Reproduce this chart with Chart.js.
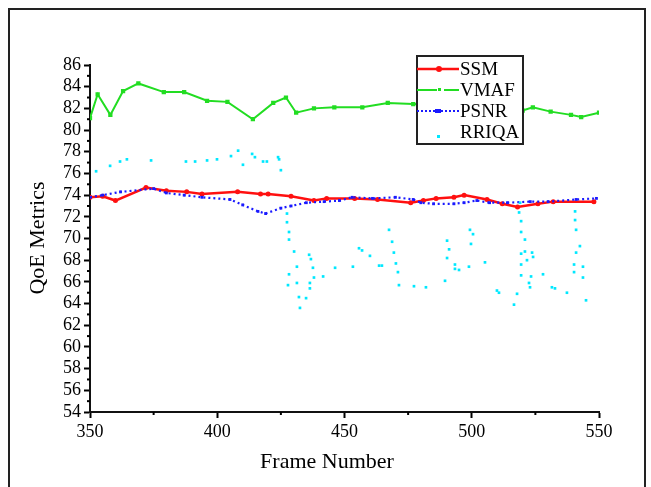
<!DOCTYPE html>
<html>
<head>
<meta charset="utf-8">
<script src="https://cdn.jsdelivr.net/npm/chart.js@4/dist/chart.umd.min.js"></script>
<style>
  html, body { margin: 0; padding: 0; background: #fff; overflow: hidden; }
  #wrap { position: relative; width: 651px; height: 487px; }
  #frame { position: absolute; left: 8px; top: 8px; width: 638px; height: 490px; border: 2px solid #222; box-sizing: border-box; }
  canvas { position: absolute; left: 0; top: 0; }
</style>
</head>
<body>
<div id="wrap">
  <div id="frame"></div>
  <canvas id="c" width="651" height="487"></canvas>
</div>
<script>
// ---- data ----
const xTickLabels = [350, 400, 450, 500, 550];
const yTickLabels = [54, 56, 58, 60, 62, 64, 66, 68, 70, 72, 74, 76, 78, 80, 82, 84, 86];

const vmafFrames = [350, 353, 358, 363, 369, 379, 387, 396, 404, 414, 422, 427, 431, 438, 446, 457, 467, 477, 497, 520, 524, 531, 539, 543, 550];
const vmafValues = [81.1, 83.3, 81.4, 83.6, 84.3, 83.5, 83.5, 82.7, 82.6, 81.0, 82.5, 83.0, 81.6, 82.0, 82.1, 82.1, 82.5, 82.4, 82.2, 81.8, 82.1, 81.7, 81.4, 81.2, 81.6];

const ssmFrames = [350, 355, 360, 372, 380, 388, 394, 408, 417, 420, 429, 438, 443, 454, 463, 476, 481, 486, 493, 497, 506, 512, 518, 526, 532, 548];
const ssmValues = [73.8, 73.9, 73.5, 74.7, 74.4, 74.3, 74.1, 74.3, 74.1, 74.1, 73.9, 73.5, 73.7, 73.7, 73.6, 73.3, 73.5, 73.7, 73.8, 74.0, 73.6, 73.2, 72.9, 73.2, 73.4, 73.4];

const psnrFrames = [350, 355, 362, 375, 380, 387, 394, 405, 410, 416, 419, 425, 429, 435, 442, 448, 453, 461, 470, 477, 480, 485, 493, 497, 502, 507, 514, 523, 530, 541, 549];
const psnrValues = [73.8, 74.0, 74.3, 74.6, 74.2, 74.0, 73.8, 73.6, 73.1, 72.5, 72.3, 72.8, 73.0, 73.3, 73.4, 73.5, 73.8, 73.7, 73.8, 73.6, 73.3, 73.2, 73.2, 73.3, 73.5, 73.3, 73.3, 73.4, 73.4, 73.6, 73.7];

const rriqaFrames = [352.4, 357.9, 361.8, 364.5, 374.0, 387.7, 391.3, 396.0, 399.9, 405.4, 408.2, 410.1, 413.7, 414.8, 418.0, 419.5, 423.9, 424.3, 425.0,
  427.4, 427.4, 428.2, 428.2, 430.2, 431.3, 428.2, 427.8, 431.3, 432.1, 432.5, 434.9, 436.1, 436.8, 437.6, 438.0, 436.4, 436.4, 441.6, 446.3,
  453.3, 455.7, 456.9, 460.0, 463.6, 464.7, 467.5, 468.7, 469.4, 470.2, 471.0, 471.4, 477.3, 482.0, 489.5, 490.3, 491.1, 490.3, 493.4, 493.4,
  495.0, 498.9, 499.3, 500.5, 499.7, 505.2, 509.9, 510.7, 519.0, 518.6, 519.4, 519.4, 520.9, 520.9, 519.4, 521.7, 523.7, 524.1, 519.4, 523.3,
  519.4, 522.5, 522.9, 517.8, 516.6, 528.0, 531.5, 532.7, 537.4, 540.6, 540.6, 541.0, 541.0, 542.5, 540.2, 540.2, 543.7, 543.7, 544.9];
const rriqaValues = [76.2, 76.7, 77.1, 77.3, 77.2, 77.1, 77.1, 77.2, 77.3, 77.6, 78.1, 76.8, 77.8, 77.5, 77.1, 77.1, 77.5, 77.3, 76.3,
  72.3, 71.5, 70.6, 69.9, 68.8, 67.4, 66.7, 65.7, 65.9, 64.6, 63.6, 64.5, 68.5, 68.1, 67.3, 66.4, 65.9, 65.4, 66.5, 67.3,
  67.4, 69.1, 68.9, 68.4, 67.5, 67.5, 70.8, 69.7, 68.7, 67.7, 66.9, 65.7, 65.6, 65.5, 66.1, 69.8, 69.0, 68.2, 67.6, 67.2,
  67.1, 67.4, 70.8, 70.4, 69.5, 67.8, 65.2, 65.0, 73.3, 72.4, 71.6, 70.6, 69.9, 68.8, 68.6, 68.0, 68.7, 68.3, 67.6, 66.5,
  66.6, 65.9, 65.5, 64.9, 63.9, 66.7, 65.5, 65.4, 65.0, 72.5, 71.7, 70.8, 68.7, 69.3, 67.6, 66.9, 67.4, 66.4, 64.3];

const seriesNames = ['SSM', 'VMAF', 'PSNR', 'RRIQA'];

function pts(xs, ys) { return xs.map((x, i) => ({ x: x, y: ys[i] })); }

const FONT = "'Liberation Serif', 'Times New Roman', serif";
Chart.defaults.font.family = FONT;
Chart.defaults.color = '#000';

const RED = '#ff1010', GREEN = '#22dd22', BLUE = '#1a1aff', CYAN = '#00e8ff';

const minorTicks = {
  id: 'minorTicks',
  afterDraw(chart) {
    const ctx = chart.ctx, xs = chart.scales.x, ys = chart.scales.y;
    const area = chart.chartArea;
    ctx.save();
    ctx.strokeStyle = '#000';
    ctx.lineWidth = 2;
    for (let v = 375; v < 550; v += 50) {
      const px = xs.getPixelForValue(v);
      ctx.beginPath(); ctx.moveTo(px, area.bottom); ctx.lineTo(px, area.bottom + 3); ctx.stroke();
    }
    for (let v = 55; v < 86; v += 2) {
      const py = ys.getPixelForValue(v);
      ctx.beginPath(); ctx.moveTo(area.left, py); ctx.lineTo(area.left - 3, py); ctx.stroke();
    }
    // axis titles
    ctx.fillStyle = '#000';
    ctx.font = '22px ' + FONT;
    ctx.textAlign = 'center';
    ctx.textBaseline = 'middle';
    ctx.fillText('Frame Number', 327, 462);
    ctx.save();
    ctx.translate(38, 238);
    ctx.rotate(-Math.PI / 2);
    ctx.fillText('QoE Metrics', 0, 0);
    ctx.restore();
    ctx.restore();
  }
};

const boxLegend = {
  id: 'boxLegend',
  afterDatasetsDraw(chart) {
    const ctx = chart.ctx;
    const x0 = 417, y0 = 56, w = 106, h = 88;
    ctx.save();
    ctx.fillStyle = '#fff';
    ctx.fillRect(x0, y0, w, h);
    ctx.strokeStyle = '#222';
    ctx.lineWidth = 2;
    ctx.strokeRect(x0, y0, w, h);
    const rows = [69, 90, 111, 132];
    const cols = [RED, GREEN, BLUE, CYAN];
    for (let i = 0; i < 4; i++) {
      const y = rows[i];
      ctx.strokeStyle = cols[i];
      ctx.fillStyle = cols[i];
      if (i === 0) {
        ctx.lineWidth = 2.5; ctx.setLineDash([]);
        ctx.beginPath(); ctx.moveTo(x0, y); ctx.lineTo(x0 + 42, y); ctx.stroke();
        ctx.beginPath(); ctx.arc(x0 + 22, y, 3, 0, Math.PI * 2); ctx.fill();
      } else if (i === 1) {
        ctx.lineWidth = 2; ctx.setLineDash([]);
        ctx.beginPath(); ctx.moveTo(x0, y); ctx.lineTo(x0 + 20, y); ctx.stroke();
        ctx.beginPath(); ctx.moveTo(x0 + 27, y); ctx.lineTo(x0 + 42, y); ctx.stroke();
        ctx.fillRect(x0 + 21, y - 2, 3, 3);
      } else if (i === 2) {
        ctx.lineWidth = 2; ctx.setLineDash([2, 2]);
        ctx.beginPath(); ctx.moveTo(x0, y); ctx.lineTo(x0 + 42, y); ctx.stroke();
        ctx.setLineDash([]);
        ctx.fillRect(x0 + 18, y - 2, 6, 4);
      } else {
        ctx.fillRect(x0 + 20, y + 3, 3, 3);
      }
    }
    ctx.setLineDash([]);
    ctx.fillStyle = '#000';
    ctx.font = '19px ' + FONT;
    ctx.textAlign = 'left';
    ctx.textBaseline = 'middle';
    for (let i = 0; i < 4; i++) ctx.fillText(seriesNames[i], x0 + 43, rows[i] + 1);
    ctx.restore();
  }
};

new Chart(document.getElementById('c'), {
  type: 'line',
  data: {
    datasets: [
      { label: seriesNames[3], data: pts(rriqaFrames, rriqaValues), showLine: false,
        pointStyle: 'rect', pointRadius: 1.9, backgroundColor: CYAN, borderColor: CYAN, borderWidth: 0 },
      { label: seriesNames[1], data: pts(vmafFrames, vmafValues), borderColor: GREEN, backgroundColor: GREEN,
        borderWidth: 2, pointStyle: 'rect', pointRadius: 1.6, tension: 0 },
      { label: seriesNames[2], data: pts(psnrFrames, psnrValues), borderColor: BLUE, backgroundColor: BLUE,
        borderWidth: 2.2, borderDash: [2, 3], pointStyle: 'rect', pointRadius: 2, pointBorderWidth: 0, tension: 0 },
      { label: seriesNames[0], data: pts(ssmFrames, ssmValues), borderColor: RED, backgroundColor: RED,
        borderWidth: 2.5, pointStyle: 'circle', pointRadius: 2.5, pointBorderWidth: 0, tension: 0 }
    ]
  },
  options: {
    responsive: false,
    animation: false,
    layout: { padding: { left: 0, right: 52, top: 65, bottom: 0 } },
    plugins: { legend: { display: false }, tooltip: { enabled: false } },
    scales: {
      x: {
        type: 'linear', min: 350, max: 550,
        afterBuildTicks(s) { s.ticks = xTickLabels.map(v => ({ value: v })); },
        ticks: { font: { size: 18 }, color: '#000', padding: 3, maxRotation: 0, autoSkip: false },
        grid: { drawOnChartArea: false, tickLength: 6, tickColor: '#000', tickWidth: 2 },
        border: { color: '#111', width: 2 },
        afterFit(s) { s.height = 75; }
      },
      y: {
        type: 'linear', min: 54, max: 86,
        afterBuildTicks(s) { s.ticks = yTickLabels.map(v => ({ value: v })); },
        ticks: { font: { size: 18 }, color: '#000', padding: 3, autoSkip: false },
        grid: { drawOnChartArea: false, tickLength: 6, tickColor: '#000', tickWidth: 2 },
        border: { color: '#111', width: 2 },
        afterFit(s) { s.width = 90; }
      }
    }
  },
  plugins: [minorTicks, boxLegend]
});
</script>
</body>
</html>
